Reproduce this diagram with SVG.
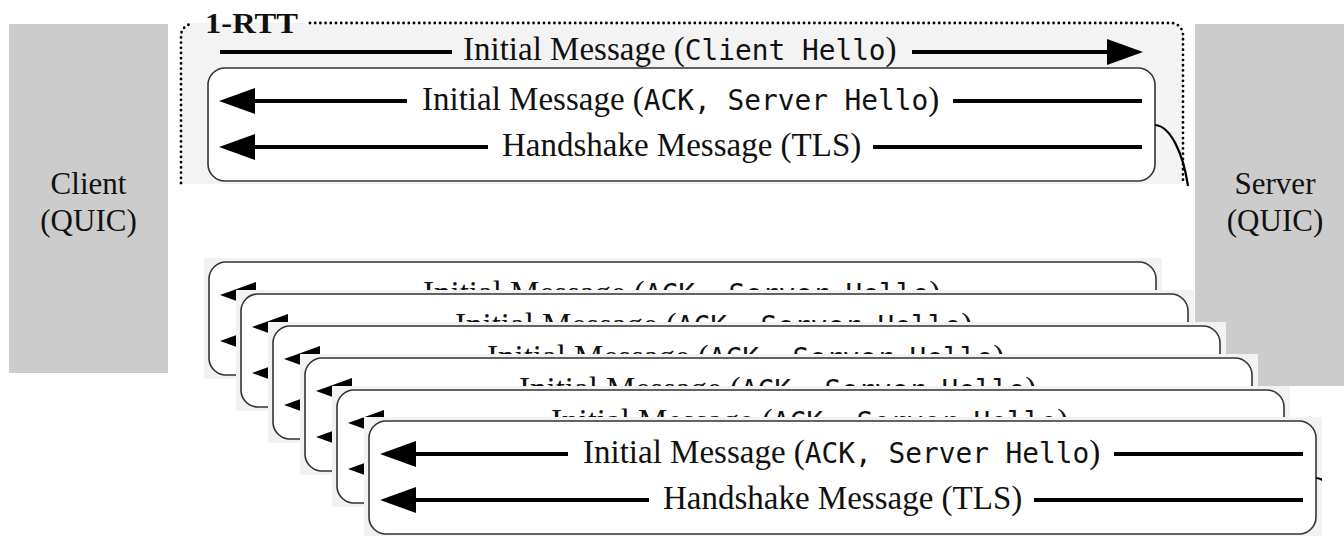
<svg xmlns="http://www.w3.org/2000/svg" xmlns:xlink="http://www.w3.org/1999/xlink" width="1344" height="536" viewBox="0 0 1344 536">
<style>
.serif{font-family:"Liberation Serif","Times New Roman",serif;font-size:33px;fill:#111}
.mono{font-family:"DejaVu Sans Mono","Liberation Mono",monospace;font-size:27.8px;fill:#111}
.endpoint{fill:#cccccc}
.endlabel{font-family:"Liberation Serif","Times New Roman",serif;font-size:31px;fill:#111;text-anchor:middle}
.line{stroke:#000;stroke-width:4;fill:none}
.head{fill:#000}
.boxrect{fill:#fff;stroke:#333;stroke-width:1.6}
.dots{fill:none;stroke:#000;stroke-width:2.8;stroke-linecap:round;stroke-dasharray:0 5.2}
.backdrop{fill:#f2f2f2}
</style>
<defs>
<clipPath id="crop" clipPathUnits="userSpaceOnUse"><rect x="-5" y="-4" width="958" height="121"/></clipPath>
<g id="msgbox">
<rect class="boxrect" x="0" y="0" width="947" height="113" rx="17" ry="17"/>
<polygon class="head" points="11,33 47,20 47,46"/>
<line class="line" x1="45" y1="33" x2="199" y2="33"/>
<text x="214" y="42"><tspan class="serif">Initial Message (</tspan><tspan class="mono">ACK, Server Hello</tspan><tspan class="serif">)</tspan></text>
<line class="line" x1="745" y1="33" x2="934" y2="33"/>
<polygon class="head" points="11,79 47,66 47,92"/>
<line class="line" x1="45" y1="79" x2="280" y2="79"/>
<text class="serif" x="294" y="88">Handshake Message (TLS)</text>
<line class="line" x1="665" y1="79" x2="934" y2="79"/>
<path d="M947,57 C962,58 975,84 980,118" fill="none" stroke="#000" stroke-width="2.2"/>
</g>
</defs>

<g id="client">
<rect class="endpoint" x="9" y="24" width="159" height="349"/>
<text class="endlabel" x="88.5" y="194">Client</text>
<text class="endlabel" x="88.5" y="231">(QUIC)</text>
</g>

<g id="server">
<rect class="endpoint" x="1195" y="24" width="149" height="362"/>
<text class="endlabel" x="1275" y="194">Server</text>
<text class="endlabel" x="1275" y="231">(QUIC)</text>
</g>

<g id="rtt-group">
<path d="M181,184 V35 A12,12 0 0 1 193,23 H1171 A12,12 0 0 1 1183,35 V184 Z" fill="#f3f3f3"/>
<rect x="186" y="8" width="120" height="15" fill="#fff"/>
<path class="dots" d="M181,183 V36 A12,12 0 0 1 191,24"/>
<path class="dots" d="M310,23 H1171 A12,12 0 0 1 1183,35 V183"/>
<text x="205" y="33" font-family="Liberation Serif, Times New Roman, serif" font-weight="bold" font-size="29" textLength="93" lengthAdjust="spacingAndGlyphs" fill="#111">1-RTT</text>
</g>

<g id="connectors">
<line class="line" x1="220" y1="52" x2="452" y2="52"/>
<text x="463" y="60"><tspan class="serif">Initial Message (</tspan><tspan class="mono">Client Hello</tspan><tspan class="serif">)</tspan></text>
<line class="line" x1="912" y1="52" x2="1110" y2="52"/>
<polygon class="head" points="1143,52 1107,39 1107,65"/>
</g>

<g id="server-reply">
<use xlink:href="#msgbox" href="#msgbox" transform="translate(208,68)"/>
</g>

<g id="reply-copy-1" transform="translate(209,262)">
<rect class="backdrop" x="-5" y="-4" width="958" height="121"/>
<g clip-path="url(#crop)"><use xlink:href="#msgbox" href="#msgbox"/></g>
</g>
<g id="reply-copy-2" transform="translate(241,294)">
<rect class="backdrop" x="-5" y="-4" width="958" height="121"/>
<g clip-path="url(#crop)"><use xlink:href="#msgbox" href="#msgbox"/></g>
</g>
<g id="reply-copy-3" transform="translate(273,326)">
<rect class="backdrop" x="-5" y="-4" width="958" height="121"/>
<g clip-path="url(#crop)"><use xlink:href="#msgbox" href="#msgbox"/></g>
</g>
<g id="reply-copy-4" transform="translate(305,358)">
<rect class="backdrop" x="-5" y="-4" width="958" height="121"/>
<g clip-path="url(#crop)"><use xlink:href="#msgbox" href="#msgbox"/></g>
</g>
<g id="reply-copy-5" transform="translate(337,390)">
<rect class="backdrop" x="-5" y="-4" width="958" height="121"/>
<g clip-path="url(#crop)"><use xlink:href="#msgbox" href="#msgbox"/></g>
</g>
<g id="reply-copy-6" transform="translate(369,421)">
<rect class="backdrop" x="-5" y="-4" width="958" height="121"/>
<g clip-path="url(#crop)"><use xlink:href="#msgbox" href="#msgbox"/></g>
</g>
</svg>
